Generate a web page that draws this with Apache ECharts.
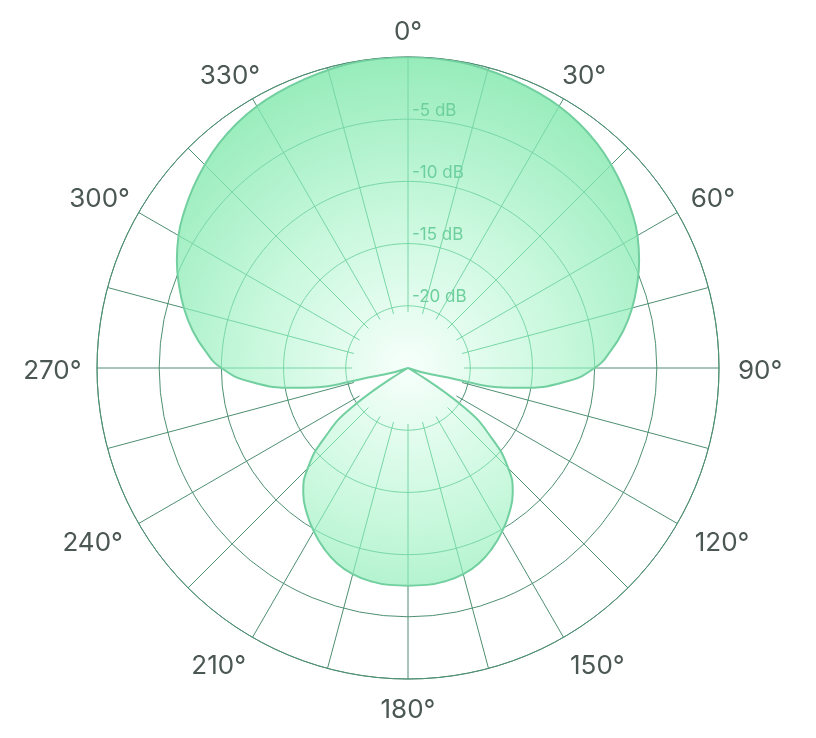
<!DOCTYPE html>
<html>
<head>
<meta charset="utf-8">
<script src="https://cdn.jsdelivr.net/npm/echarts@6/dist/echarts.min.js"></script>
<style>
  html, body { margin: 0; padding: 0; background: #ffffff; }
  #chart { width: 816px; height: 738px; }
</style>
</head>
<body>
<div id="chart"></div>
<script>
// Angles (degrees, clockwise from top) and measured level (dB)
const angles = [
  0, 5, 10, 15, 20, 25, 30, 35, 40, 45, 50, 55, 60, 65, 70, 75, 80, 85, 90,
  95, 100, 105, 110, 115, 120, 125, 130, 135, 140, 145, 150, 155, 160, 165, 170, 175, 180,
  185, 190, 195, 200, 205, 210, 215, 220, 225, 230, 235, 240, 245, 250, 255, 260, 265, 270,
  275, 280, 285, 290, 295, 300, 305, 310, 315, 320, 325, 330, 335, 340, 345, 350, 355, 360
];
const levels = [
  0, -0.02, -0.06, -0.2, -0.35, -0.5, -0.7, -1.0, -1.4, -1.9, -2.45, -3.05, -3.7, -4.5, -5.4, -6.35, -7.4, -8.6, -10.0,
  -12.3, -15.8, -23.0, -25, -25, -25, -19.5, -16.2, -13.6, -11.9, -10.8, -9.85, -9.0, -8.3, -7.85, -7.6, -7.5, -7.5,
  -7.5, -7.6, -7.85, -8.3, -9.0, -9.85, -10.8, -11.9, -13.6, -16.2, -19.5, -25, -25, -25, -23.0, -15.8, -12.3, -10.0,
  -8.6, -7.4, -6.35, -5.4, -4.5, -3.7, -3.05, -2.45, -1.9, -1.4, -1.0, -0.7, -0.5, -0.35, -0.2, -0.06, -0.02, 0
];
const angleLabels = ['0', '30', '60', '90', '120', '150', '180', '210', '240', '270', '300', '330'];
const ringLabels = ['-20', '-15', '-10', '-5'];

const CX = 408, CY = 368, R = 311, R_INNER = 56;
const DB_MIN = -25, DB_MAX = 0, DB_STEP = 5, SPOKE_STEP = 15;
const gridColor = '#4f8f73';
const innerGridColor = '#78d6a6';
const LABEL_FONT_SIZE = 26;
const LABEL_FONT = 'Inter, "Liberation Sans", sans-serif';

// ---- level along the measured pattern (linear between read points) ----
function levelAt(t) {
  for (let i = 0; i < angles.length - 1; i++) {
    if (t >= angles[i] && t <= angles[i + 1]) {
      const f = (t - angles[i]) / (angles[i + 1] - angles[i]);
      return levels[i] + f * (levels[i + 1] - levels[i]);
    }
  }
  return levels[levels.length - 1];
}

// ---- grid pieces that lie inside the pattern (drawn lighter, on top of the fill) ----
const innerStartDb = DB_MIN + (R_INNER / R) * (DB_MAX - DB_MIN);
const insideGrid = [];
for (let a = 0; a < 360; a += SPOKE_STEP) {
  const lv = levelAt(a);
  if (lv > innerStartDb) insideGrid.push([[innerStartDb, a], [lv, a]]);
}
ringLabels.forEach(function (s) {
  const v = Number(s);
  let seg = null;
  const step = 0.5;
  for (let t = 0; t <= 360 + 1e-9; t += step) {
    const lv = levelAt(t);
    const inside = lv >= v;
    if (inside) {
      if (!seg) {
        seg = [];
        if (t > 0) {
          const p = levelAt(t - step);
          const f = (v - p) / (lv - p);
          seg.push([v, t - step + f * step]);
        }
      }
      seg.push([v, t]);
    } else if (seg) {
      const p = levelAt(t - step);
      const f = (p - v) / (p - lv);
      seg.push([v, t - step + f * step]);
      insideGrid.push(seg);
      seg = null;
    }
  }
  if (seg) insideGrid.push(seg);
});

// ---- layout of the angle labels round the outer ring ----
const measureCtx = document.createElement('canvas').getContext('2d');
measureCtx.font = LABEL_FONT_SIZE + 'px ' + LABEL_FONT;
const labelItems = angleLabels.map(function (s) {
  const a = Number(s);
  const txt = s + '\u00b0';
  const halfW = measureCtx.measureText(txt).width / 2;
  const rad = a * Math.PI / 180;
  const sn = Math.sin(rad), cs = Math.cos(rad);
  const reachX = 341 + 0.5 * halfW + 32 * Math.max(0, -cs) * Math.abs(cs);
  const reachY = 339 + 7 * sn * sn;
  const dx = reachX * sn;
  const dy = -reachY * cs + 3.5;
  const dist = Math.sqrt(dx * dx + dy * dy);
  let ang = Math.atan2(dx, -dy) * 180 / Math.PI;
  if (ang < 0) ang += 360;
  return { name: txt, value: [dist, ang] };
});

const series = [
  {
    type: 'line',
    coordinateSystem: 'polar',
    polarIndex: 1,
    smooth: true,
    symbol: 'none',
    z: 3,
    lineStyle: { color: '#72cf9f', width: 2 },
    areaStyle: {
      origin: 'start',
      opacity: 1,
      color: {
        type: 'radial', x: CX, y: CY, r: R, global: true,
        colorStops: [
          { offset: 0, color: '#f7fffb' },
          { offset: 0.5, color: '#c8f8dd' },
          { offset: 1, color: '#97ecbb' }
        ]
      }
    },
    data: angles.map(function (a, i) { return [levels[i], a]; })
  }
];
insideGrid.forEach(function (seg) {
  series.push({
    type: 'line',
    coordinateSystem: 'polar',
    polarIndex: 1,
    smooth: false,
    symbol: 'none',
    silent: true,
    z: 4,
    lineStyle: { color: innerGridColor, width: 1 },
    data: seg
  });
});
series.push({
  type: 'scatter',
  coordinateSystem: 'polar',
  polarIndex: 3,
  symbolSize: 1,
  itemStyle: { color: 'rgba(0,0,0,0)', opacity: 1 },
  silent: true,
  z: 5,
  label: {
    show: true,
    position: 'inside',
    color: '#4b5753',
    opacity: 1,
    textBorderWidth: 0,
    fontSize: LABEL_FONT_SIZE,
    fontFamily: LABEL_FONT,
    formatter: '{b}'
  },
  data: labelItems
});

const chart = echarts.init(document.getElementById('chart'), null, { renderer: 'canvas' });
chart.setOption({
  animation: false,
  backgroundColor: '#ffffff',
  polar: [
    { center: [CX, CY], radius: [R_INNER, R] },
    { center: [CX, CY], radius: [0, R] },
    { center: [CX, CY], radius: [0, R] },
    { center: [CX, CY], radius: [0, 400] }
  ],
  angleAxis: [
    {
      polarIndex: 0, type: 'value', min: 0, max: 360, interval: SPOKE_STEP, startAngle: 90, clockwise: true,
      axisLine: { show: false }, axisTick: { show: false }, axisLabel: { show: false },
      splitLine: { show: true, lineStyle: { color: gridColor, width: 1 } }
    },
    {
      polarIndex: 1, type: 'value', min: 0, max: 360, interval: 30, startAngle: 90, clockwise: true,
      axisLine: { show: true, lineStyle: { color: gridColor, width: 1 } },
      axisTick: { show: false },
      splitLine: { show: false },
      axisLabel: { show: false }
    },
    { polarIndex: 2, type: 'value', min: 0, max: 360, startAngle: 90, show: false },
    { polarIndex: 3, type: 'value', min: 0, max: 360, startAngle: 90, clockwise: true, show: false }
  ],
  radiusAxis: [
    {
      polarIndex: 0, type: 'value', min: DB_MIN, max: DB_MAX, show: false,
      axisLine: { show: false }, axisTick: { show: false }, axisLabel: { show: false }, splitLine: { show: false }
    },
    {
      polarIndex: 1, type: 'value', min: DB_MIN, max: DB_MAX, interval: DB_STEP,
      axisLine: { show: false }, axisTick: { show: false }, axisLabel: { show: false },
      splitLine: { show: true, lineStyle: { color: gridColor, width: 1 } }
    },
    {
      polarIndex: 2, type: 'value', min: DB_MIN, max: DB_MAX, interval: DB_STEP, z: 10,
      axisLine: { show: false }, axisTick: { show: false }, splitLine: { show: false },
      axisLabel: {
        color: '#6ccf9c',
        fontSize: 17,
        fontFamily: LABEL_FONT,
        align: 'left',
        verticalAlign: 'bottom',
        margin: -4,
        formatter: function (v) {
          const s = String(v);
          return ringLabels.indexOf(s) >= 0 ? s + ' dB' : '';
        }
      }
    },
    { polarIndex: 3, type: 'value', min: 0, max: 400, show: false }
  ],
  series: series
});
</script>
</body>
</html>
